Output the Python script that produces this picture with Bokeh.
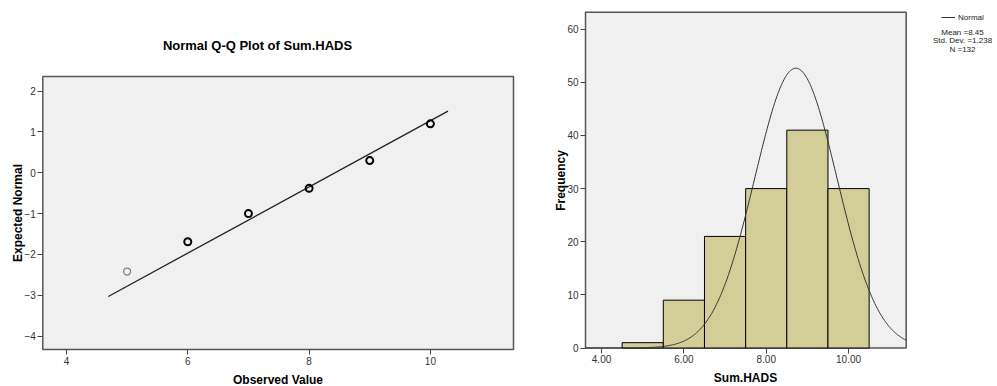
import numpy as np
from bokeh.plotting import figure
from bokeh.layouts import row
from bokeh.models import (Range1d, FixedTicker, Legend, LegendItem, Label,
                          NumeralTickFormatter)
from bokeh.embed import file_html
from bokeh.resources import INLINE

FONT = "Liberation Sans"

# ---------------- data ----------------
qq_observed = [5, 6, 7, 8, 9, 10]
qq_expected = [-2.42, -1.69, -1.00, -0.38, 0.30, 1.20]
qq_line_x = [4.69, 10.29]
qq_line_y = [-3.03, 1.51]
qq_x_limits = [3.61, 11.37]
qq_y_limits = [-4.33, 2.36]
qq_x_ticks = [4, 6, 8, 10]
qq_y_ticks = [-4, -3, -2, -1, 0, 1, 2]

hist_left = [4.5, 5.5, 6.5, 7.5, 8.5, 9.5]
hist_right = [5.5, 6.5, 7.5, 8.5, 9.5, 10.5]
hist_counts = [1, 9, 21, 30, 41, 30]
hist_x_limits = [3.61, 11.40]
hist_y_limits = [0, 63.2]
hist_x_ticks = [4, 6, 8, 10]
hist_y_ticks = [0, 10, 20, 30, 40, 50, 60]

# normal curve as drawn in the picture
curve_mean = 8.72
curve_sd = 1.0
curve_n = 132
bin_width = 1.0

stat_lines = ["Mean =8.45", "Std. Dev. =1.238", "N =132"]


def ranges(lims_x, lims_y, w, h, box):
    """box = (left, right, top, bottom) of the panel in figure pixels"""
    l, r, t, b = box
    kx = (r - l) / (lims_x[1] - lims_x[0])
    ky = (b - t) / (lims_y[1] - lims_y[0])
    xr = Range1d(lims_x[0] - l / kx, lims_x[1] + (w - r) / kx)
    yr = Range1d(lims_y[0] - (h - b) / ky, lims_y[1] + t / ky)
    return xr, yr


def make_fig(w, h, lims_x, lims_y, box, xticks, yticks):
    xr, yr = ranges(lims_x, lims_y, w, h, box)
    p = figure(width=w, height=h, output_backend="svg", toolbar_location=None,
               x_range=xr, y_range=yr, min_border=0)
    p.min_border_left = p.min_border_right = 0
    p.min_border_top = p.min_border_bottom = 0
    p.title.visible = False
    p.background_fill_color = "white"
    p.border_fill_color = "white"
    p.outline_line_color = None
    p.xgrid.visible = False
    p.ygrid.visible = False
    p.xaxis.fixed_location = lims_y[0]
    p.yaxis.fixed_location = lims_x[0]
    p.xaxis.ticker = FixedTicker(ticks=xticks)
    p.yaxis.ticker = FixedTicker(ticks=yticks)
    for ax in p.axis:
        ax.axis_line_color = None
        ax.major_tick_line_color = "#444444"
        ax.major_tick_out = 5
        ax.major_tick_in = 0
        ax.minor_tick_line_color = None
        ax.major_label_text_font = FONT
        ax.major_label_text_font_size = "10px"
        ax.major_label_text_color = "#333333"
        ax.major_label_standoff = 2
    # plot panel
    p.quad(left=[lims_x[0]], right=[lims_x[1]], bottom=[lims_y[0]],
           top=[lims_y[1]], fill_color="#f0f0f0", line_color="#555555",
           line_width=1.5)
    return p


def text(p, t, x, y, size="12px", bold=True, angle=0.0, align="center"):
    p.add_layout(Label(x=x, y=y, x_units="screen", y_units="screen", text=t,
                       text_align=align, text_baseline="middle", angle=angle,
                       text_font=FONT, text_font_size=size,
                       text_font_style="bold" if bold else "normal",
                       text_color="black" if bold else "#222222"))


H = 386

# ---------------- left: Q-Q plot ----------------
W1 = 540
p1 = make_fig(W1, H, qq_x_limits, qq_y_limits, (42.3, 513, 76, 349),
              qq_x_ticks, qq_y_ticks)
p1.line(qq_line_x, qq_line_y, line_color="#222222", line_width=1.3)
p1.scatter(qq_observed[:1], qq_expected[:1], size=7, fill_color=None,
           line_color="#808080", line_width=1.3)
p1.scatter(qq_observed[1:], qq_expected[1:], size=7, fill_color=None,
           line_color="black", line_width=2)

text(p1, "Normal Q-Q Plot of Sum.HADS", 257, H - 45, size="13px")
text(p1, "Expected Normal", 17, H - 212.5, angle=np.pi / 2)
text(p1, "Observed Value", 277.5, H - 379)

# ---------------- right: histogram ----------------
W2 = 457
p2 = make_fig(W2, H, hist_x_limits, hist_y_limits, (45, 365.7, 11.7, 347.5),
              hist_x_ticks, hist_y_ticks)
p2.xaxis.formatter = NumeralTickFormatter(format="0.00")

p2.quad(left=hist_left, right=hist_right, bottom=0, top=hist_counts,
        fill_color="#d3ce97", line_color="black", line_width=1)

cx = np.linspace(hist_x_limits[0], hist_x_limits[1], 400)
cy = curve_n * bin_width / (curve_sd * np.sqrt(2 * np.pi)) * \
    np.exp(-0.5 * ((cx - curve_mean) / curve_sd) ** 2)
curve = p2.line(cx, cy, line_color="#333333", line_width=1)

text(p2, "Frequency", 20, H - 180, angle=np.pi / 2)
text(p2, "Sum.HADS", 205, H - 377)

legend = Legend(items=[LegendItem(label="Normal", renderers=[curve])],
                location=(401, H - 22.3), orientation="vertical",
                border_line_color=None, background_fill_alpha=0,
                padding=0, margin=0, spacing=0, glyph_width=14,
                glyph_height=10, label_height=10, label_standoff=3,
                label_text_font=FONT, label_text_font_size="8px",
                label_text_color="#222222")
p2.add_layout(legend, "center")

for t, yy in zip(stat_lines, [32.3, 40.0, 48.7]):
    text(p2, t, 422, H - yy, size="8px", bold=False)

layout = row(p1, p2)
open("out.html", "w").write(file_html(layout, INLINE))
